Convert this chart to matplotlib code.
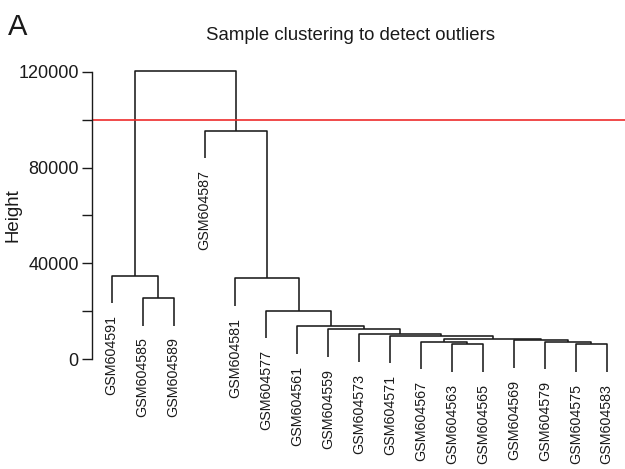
import matplotlib
matplotlib.use("Agg")
from matplotlib import pyplot as plt

plt.rcParams['font.family'] = ['Liberation Sans', 'DejaVu Sans']

# leaves in plotting order
samples = ["GSM604591", "GSM604585", "GSM604589", "GSM604587", "GSM604581",
           "GSM604577", "GSM604561", "GSM604559", "GSM604573", "GSM604571",
           "GSM604567", "GSM604563", "GSM604565", "GSM604569", "GSM604579",
           "GSM604575", "GSM604583"]

# hclust-style merges: negative = leaf (1-based position), positive = earlier merge row
merge_left = [-2, -1, -12, -16, -11, -15, -14, 5, -10, -9, -8, -7, -6, -5, -4, 2]
merge_right = [-3, 1, -13, -17, 3, 4, 6, 7, 8, 9, 10, 11, 12, 13, 14, 15]
merge_height = [25400, 34700, 6100, 6100, 7300, 7200, 7800, 8200, 9600,
                10300, 12400, 13600, 20200, 33700, 95300, 120300]

cut_height = 100000
yticks = [0, 20000, 40000, 60000, 80000, 100000, 120000]
ytick_labels = ["0", "", "40000", "", "80000", "", "120000"]

hang = 0.1 * (max(merge_height) - min(merge_height))

W, H = 625, 469
fig = plt.figure(figsize=(W / 100, H / 100), dpi=100)

# axes placed in pixel terms: left edge at x=92, 0 at y=359, 120000 at y=72
ax_left, ax_right, ax_top, ax_bot = 92, 625, 50, 385
ax = fig.add_axes([ax_left / W, 1 - ax_bot / H, (ax_right - ax_left) / W, (ax_bot - ax_top) / H])
px_per_unit = (606.7 - 111.7) / 16
ax.set_xlim(1 - (111.7 - ax_left) / px_per_unit, 17 + (ax_right - 606.7) / px_per_unit)
px_per_h = (359 - 72) / 120000
ax.set_ylim(-(ax_bot - 359) / px_per_h, 120000 + (72 - ax_top) / px_per_h)

line_kw = dict(color="#1a1a1a", lw=1.15, solid_capstyle="butt", clip_on=False)

node_x = {}
for i, (a, b, h) in enumerate(zip(merge_left, merge_right, merge_height), start=1):
    pts = []
    for c in (a, b):
        if c < 0:
            x = -c
            y = h - hang
            ax.text(x, y, samples[x - 1], rotation=90, rotation_mode="anchor",
                    ha="right", va="center", fontsize=10.3, color="#1a1a1a",
                    transform=ax.transData + matplotlib.transforms.ScaledTranslation(0, -12 / 100, fig.dpi_scale_trans))
        else:
            x = node_x[c]
            y = merge_height[c - 1]
        pts.append((x, y))
    (xl, yl), (xr, yr) = pts
    ax.plot([xl, xl, xr, xr], [yl, h, h, yr], **line_kw)
    node_x[i] = (xl + xr) / 2

ax.axhline(cut_height, color="#ee2b2b", lw=1.2, xmin=0, xmax=1)

for s in ["top", "right", "bottom"]:
    ax.spines[s].set_visible(False)
ax.spines["left"].set_bounds(0, 120000)
ax.spines["left"].set_linewidth(1.0)
ax.spines["left"].set_color("#1a1a1a")
ax.set_xticks([])
ax.set_yticks(yticks)
ax.set_yticklabels(ytick_labels)
ax.tick_params(axis="y", length=7.5, width=1.0, pad=2, labelsize=13, colors="#1a1a1a")

fig.text(13 / W, 1 - 215 / H, "Height", rotation=90, ha="center", va="center",
         fontsize=13.4, color="#1a1a1a")
fig.text(350 / W, 1 - 40 / H, "Sample clustering to detect outliers", ha="center",
         va="baseline", fontsize=13.4, color="#1a1a1a")
fig.text(8 / W, 1 - 35 / H, "A", ha="left", va="baseline", fontsize=21, color="#1a1a1a")

fig.savefig("out.png", dpi=100)
